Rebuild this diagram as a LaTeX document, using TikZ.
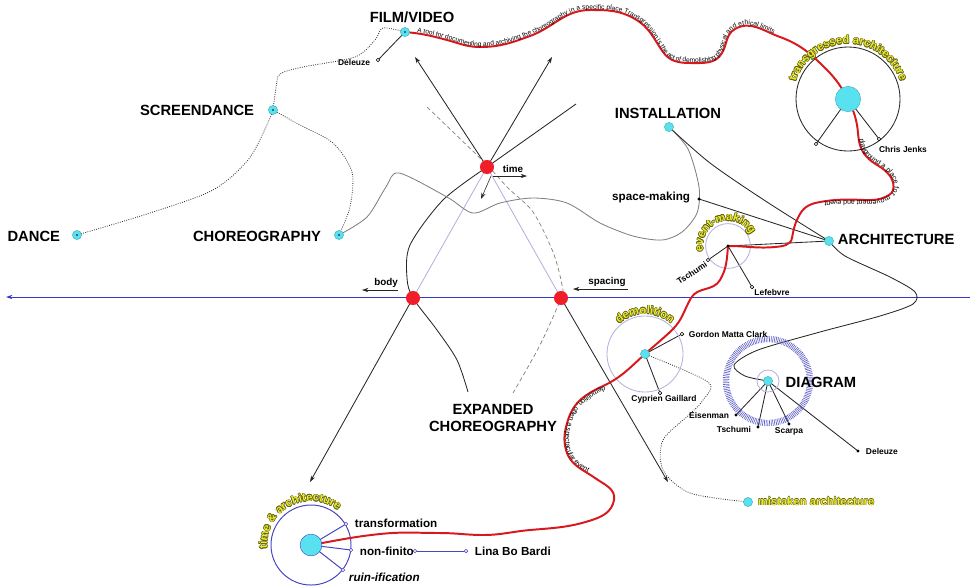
\documentclass[tikz,border=0pt]{standalone}
\usepackage{fontspec}
\setmainfont{Liberation Sans}
\usetikzlibrary{arrows.meta,decorations.text}

\definecolor{cyn}{RGB}{88,226,240}
\definecolor{rdot}{RGB}{240,30,40}
\definecolor{rline}{RGB}{215,25,30}
\definecolor{lav}{RGB}{178,178,222}
\definecolor{axblue}{RGB}{55,55,200}
\definecolor{ringblue}{RGB}{70,70,190}
\definecolor{ylwfill}{RGB}{236,236,50}
\definecolor{ylwedge}{RGB}{95,95,15}

\newcommand\pathfont{\fontsize{4.7}{5}\selectfont}
\newcommand\pathfontb{\fontsize{5}{5}\selectfont}
\newcommand\arcfont{\fontsize{8}{9}\selectfont\bfseries}
\newcommand\ylw[1]{\leavevmode
  \rlap{\color{ylwedge}\kern-.4pt#1}\rlap{\color{ylwedge}\kern.4pt#1}%
  \rlap{\color{ylwedge}\raisebox{.4pt}{#1}}\rlap{\color{ylwedge}\raisebox{-.4pt}{#1}}%
  \textcolor{ylwfill}{#1}}
\newcommand\arctext[6]{%
  \foreach \ox/\oy in {-.45/0,.45/0,0/-.45,0/.45,-.32/-.32,.32/.32,-.32/.32,.32/-.32}{%
    \path[shift={(\ox pt,\oy pt)}, decorate, decoration={text along path, text align=center,
      text={|\arcfont\color{ylwedge}|#6}}] (#1,#2) ++(#4:#3) arc[start angle=#4, end angle=#5, radius=#3];}
  \path[decorate, decoration={text along path, text align=center,
    text={|\arcfont\color{ylwfill}|#6}}] (#1,#2) ++(#4:#3) arc[start angle=#4, end angle=#5, radius=#3];}

\tikzset{
  hub/.style={circle, fill=cyn, draw=cyn!75!black, line width=0.3pt, inner sep=0pt, minimum size=6.5pt},
  hubc/.style={hub, path picture={\fill[black] (path picture bounding box.center) circle[radius=0.6pt];}},
  knot/.style={circle, fill=rdot, inner sep=0pt, minimum size=10pt},
  opendot/.style={circle, draw=black, fill=white, line width=0.4pt, inner sep=0pt, minimum size=2.6pt},
  blackdot/.style={circle, fill=black, inner sep=0pt, minimum size=2.2pt},
  bigtxt/.style={font=\fontsize{10.5}{12.5}\selectfont\bfseries},
  midtxt/.style={font=\fontsize{8.3}{9}\selectfont\bfseries},
  smalltxt/.style={font=\fontsize{6}{7}\selectfont\bfseries},
  tagtxt/.style={font=\fontsize{7}{8}\selectfont\bfseries},
  conn/.style={draw=black!85, line width=0.6pt},
  dotline/.style={draw=black!80, densely dotted, line width=0.6pt},
  redline/.style={draw=rline, line width=1.4pt},
  arr/.style={conn, -{Stealth[length=4.5pt,width=3pt]}},
}

\begin{document}
\begin{tikzpicture}[x=0.025cm, y=-0.025cm]
\useasboundingbox (0,0) rectangle (970,587);

\coordinate (fv) at (405,32);
\coordinate (scr) at (273,110);
\coordinate (dnc) at (77,235);
\coordinate (cho) at (339,235);
\coordinate (ins) at (669,127);
\coordinate (archi) at (829,241);
\coordinate (spm) at (699,199);
\coordinate (evt) at (728,246);
\coordinate (dem) at (645,354);
\coordinate (dia) at (768,381);
\coordinate (mis) at (748,502);
\coordinate (tra) at (848,99);
\coordinate (tar) at (311,545);
\coordinate (time) at (487,167);
\coordinate (body) at (413,298);
\coordinate (spc) at (561,298);

\coordinate (fvDel) at (378,60);
\coordinate (traA) at (816,144);
\coordinate (traB) at (879,139);
\coordinate (evtTs) at (708,260);
\coordinate (evtLe) at (752,287);
\coordinate (demGo) at (682,334);
\coordinate (demCy) at (660,393);
\coordinate (diaEi) at (736,415);
\coordinate (diaTs) at (758,427);
\coordinate (diaSc) at (789,424);
\coordinate (diaDe) at (858,451);
\coordinate (tarTr) at (346,524);
\coordinate (tarNf) at (351,550);
\coordinate (tarRu) at (343,570);
\coordinate (linA) at (415,551);
\coordinate (linB) at (466,551);

\coordinate (upL) at (415,57);
\coordinate (upR) at (552,57);
\coordinate (upX) at (576,104);
\coordinate (downL) at (310,482);
\coordinate (downR) at (668,482);
\coordinate (expEnd) at (468,392);
\coordinate (dashA) at (427,107);
\coordinate (dashB) at (513,393);
\coordinate (axR) at (970,297);
\coordinate (axL) at (6,297);

% axis and triangle
\draw[axblue, line width=0.6pt, -{Stealth[length=4.5pt,width=3pt]}] (axR) -- (axL);
\draw[lav, line width=0.6pt] (body) -- (time) -- (spc);
\draw[gray, dash pattern=on 3pt off 2pt, line width=0.5pt] plot[smooth] coordinates {(dashA) (484,162) (508,188) (533,212) (553,252) (562,285) (spc) (540,345) (dashB)};

\draw[arr] (time) -- (upL);
\draw[arr] (time) -- (upR);
\draw[conn] (time) -- (upX);
\draw[arr] (body) -- (downL);
\draw[arr] (spc) -- (downR);
\draw[conn] plot[smooth] coordinates {(time) (443,200) (410,245) (407,278) (body) (437,330) (457,360) (expEnd)};

\draw[arr, line width=0.4pt] (493,176) -- (527,176);
\node[tagtxt] (timeL) at (513,169) {time};
\draw[arr, line width=0.4pt] (491,176) -- (481,199);
\draw[arr, line width=0.4pt] (398,290) -- (362,290);
\node[tagtxt] (bodyL) at (386,283) {body};
\draw[arr, line width=0.4pt] (628,289) -- (573,289);
\node[tagtxt] (spcL) at (607,282) {spacing};

% dotted links
\draw[dotline] plot[smooth] coordinates {(fv) (383,28) (375,40) (355,57) (303,67) (280,74) (276,88) (scr)};
\draw[dotline] plot[smooth] coordinates {(scr) (266,127) (248,160) (213,190) (150,213) (dnc)};
\draw[dotline] plot[smooth] coordinates {(scr) (300,125) (333,143) (352,172) (350,207) (cho)};
\draw[dotline] plot[smooth] coordinates {(dem) (708,382) (703,400) (690,414) (663,440) (663,470) (690,493) (mis)};

% grey and black links
\draw[gray, line width=0.6pt] plot[smooth] coordinates {(cho) (367,217) (386,187) (399,173) (447,197) (473,213) (500,203) (533,198) (567,203) (600,223) (633,236) (662,240) (682,232) (697,213) (699,187) (688,149) (ins)};
\draw[conn] plot[smooth] coordinates {(ins) (710,163) (767,202) (archi)};
\draw[conn] (spm) -- (archi);
\draw[conn] (evt) -- (archi);
\draw[conn] plot[smooth] coordinates {(archi) (845,256) (890,277) (915,292) (913,304) (880,316) (820,332) (758,350) (734,365) (745,376) (dia)};

% leaves
\draw[conn] (fv) -- (fvDel);
\draw[conn] (tra) -- (traA);
\draw[conn] (tra) -- (traB);
\draw[conn] (evt) -- (evtTs);
\draw[conn] (evt) -- (evtLe);
\draw[conn] (dem) -- (demGo);
\draw[conn] (dem) -- (demCy);
\draw[conn] (dia) -- (diaEi);
\draw[conn] (dia) -- (diaTs);
\draw[conn] (dia) -- (diaSc);
\draw[conn] (dia) -- (diaDe);
\draw[ringblue, line width=0.7pt] (tar) -- (tarTr);
\draw[ringblue, line width=0.7pt] (tar) -- (tarNf);
\draw[ringblue, line width=0.7pt] (tar) -- (tarRu);
\draw[ringblue, line width=0.7pt] (linA) -- (linB);

% circles
\draw[black!85, line width=0.6pt] (tra) circle[radius=1.3cm];
\draw[lav, line width=0.6pt] (evt) circle[radius=0.56cm];
\draw[lav, line width=0.6pt] (dem) circle[radius=0.95cm];
\draw[ringblue!85, line width=4.5pt, dash pattern=on 0.45pt off 0.75pt] (dia) circle[radius=1.05cm];
\draw[lav, line width=0.6pt] (dia) circle[radius=0.275cm];
\draw[ringblue, line width=0.7pt] (tar) circle[radius=1.0cm];

% red thread
\draw[redline, postaction={decorate, decoration={text along path, raise=0.5pt, text align={left, left indent=0.3cm},
  text={|\pathfont|A tool for documenting and archiving the choreography in a specific place Transgression is the act of demolishing physical and ethical limits}}}]
  (fv) to[out=-5,in=165] (447,40) to[out=-15,in=180] (480,47) to[out=0,in=200] (530,36)
  to[out=20,in=180] (590,10) to[out=0,in=150] (635,19) to[out=-30,in=125] (663,52)
  to[out=-55,in=180] (690,63) to[out=0,in=240] (722,53) to[out=60,in=210] (735,29)
  to[out=30,in=160] (780,37) to[out=-20,in=135] (827,70) to[out=-45,in=120] (tra);
\draw[redline, postaction={decorate, decoration={text along path, raise=0.5pt, text align={left, left indent=1.05cm},
  text={|\pathfontb|playground a place for movement and event}}}]
  (tra) to[out=-65,in=95] (858,133) to[out=-85,in=130] (866,156) to[out=-50,in=125] (890,176)
  to[out=-55,in=30] (889,195) to[out=-150,in=-2] (865,200) to[out=178,in=10] (820,202)
  to[out=190,in=60] (800,214) to[out=240,in=80] (792,238) to[out=260,in=5] (775,247)
  to[out=185,in=0] (evt);
\draw[redline, postaction={decorate, decoration={text along path, raise=0.5pt, text align={left, left indent=4.9cm},
  text={|\pathfontb|demolition, often a spectacular event}}}]
  (evt) to[out=265,in=60] (720,280) to[out=240,in=60] (691,298) to[out=240,in=44] (672,330)
  to[out=224,in=42] (dem) to[out=222,in=25] (603,386) to[out=205,in=73] (568,420)
  to[out=253,in=105] (566,450) to[out=285,in=145] (595,478) to[out=325,in=80] (614,500)
  to[out=260,in=18] (592,520) to[out=198,in=5] (530,530) to[out=185,in=0] (483,535)
  to[out=180,in=0] (440,533) to[out=180,in=6] (380,534) to[out=186,in=10] (tar);

% yellow titles
\arctext{848}{99}{1.38cm}{200}{-20}{transgressed architecture}
\arctext{728}{246}{0.63cm}{235}{-15}{event-making}
\arctext{645}{354}{1.0cm}{180}{0}{demolition}
\arctext{311}{545}{1.1cm}{250}{-13}{time {\&} architecture}

% dots
\node[hubc] (fvN) at (fv) {};
\node[hubc] (scrN) at (scr) {};
\node[hubc] (dncN) at (dnc) {};
\node[hubc] (choN) at (cho) {};
\node[hub] (insN) at (ins) {};
\node[hub] (archiN) at (archi) {};
\node[hub] (demN) at (dem) {};
\node[hub] (diaN) at (dia) {};
\node[hub] (misN) at (mis) {};
\node[hub, minimum size=18pt] (traN) at (tra) {};
\node[hub, minimum size=15.5pt, draw=ringblue] (tarN) at (tar) {};
\node[blackdot] (evtN) at (evt) {};
\node[blackdot] (spmN) at (spm) {};
\node[knot] (timeN) at (time) {};
\node[knot] (bodyN) at (body) {};
\node[knot] (spcN) at (spc) {};

\foreach \p in {fvDel,traA,traB,evtTs,evtLe,demGo,demCy}
  \node[opendot] at (\p) {};
\foreach \p in {diaEi,diaTs,diaSc,diaDe}
  \node[blackdot] at (\p) {};
\foreach \p in {tarTr,tarNf,tarRu,linA,linB}
  \node[opendot, draw=ringblue] at (\p) {};

% labels
\node[bigtxt] (fvL) at (412,17) {FILM/VIDEO};
\node[bigtxt, anchor=east] (scrL) at (259,110) {SCREENDANCE};
\node[bigtxt, anchor=east] (dncL) at (65,236) {DANCE};
\node[bigtxt, anchor=east] (choL) at (326,236) {CHOREOGRAPHY};
\node[bigtxt] (insL) at (668,113) {INSTALLATION};
\node[bigtxt, anchor=west] (archiL) at (833,239) {ARCHITECTURE};
\node[bigtxt] (diaL) at (821,382) {DIAGRAM};
\node[bigtxt, align=center] (expL) at (493,418) {EXPANDED\\CHOREOGRAPHY};
\node[midtxt, anchor=east] (spmL) at (695,197) {space-making};
\node[smalltxt, anchor=east] (fvDelL) at (375,62) {Deleuze};
\node[smalltxt] (traL) at (903,149) {Chris Jenks};
\node[smalltxt, rotate=33] (evtTsL) at (692,273) {Tschumi};
\node[smalltxt] (evtLeL) at (772,292) {Lefebvre};
\node[smalltxt, anchor=west] (demGoL) at (684,334) {Gordon Matta Clark};
\node[smalltxt] (demCyL) at (664,399) {Cyprien Gaillard};
\node[smalltxt, anchor=east] (diaEiL) at (734,415) {Eisenman};
\node[smalltxt, anchor=east] (diaTsL) at (756,429) {Tschumi};
\node[smalltxt] (diaScL) at (789,431) {Scarpa};
\node[smalltxt, anchor=west] (diaDeL) at (861,451) {Deleuze};
\node[midtxt, anchor=west] (tarTrL) at (350,523) {transformation};
\node[midtxt, anchor=west] (tarNfL) at (355,551) {non-finito};
\node[midtxt, anchor=west, font=\fontsize{8.3}{9}\selectfont\bfseries\itshape] (tarRuL) at (344,577) {ruin-ification};
\node[midtxt, anchor=west] (linL) at (470,551) {Lina Bo Bardi};
\node[anchor=west, font=\fontsize{8}{9}\selectfont\bfseries] (misL) at (753,501) {\ylw{mistaken architecture}};

\end{tikzpicture}
\end{document}
